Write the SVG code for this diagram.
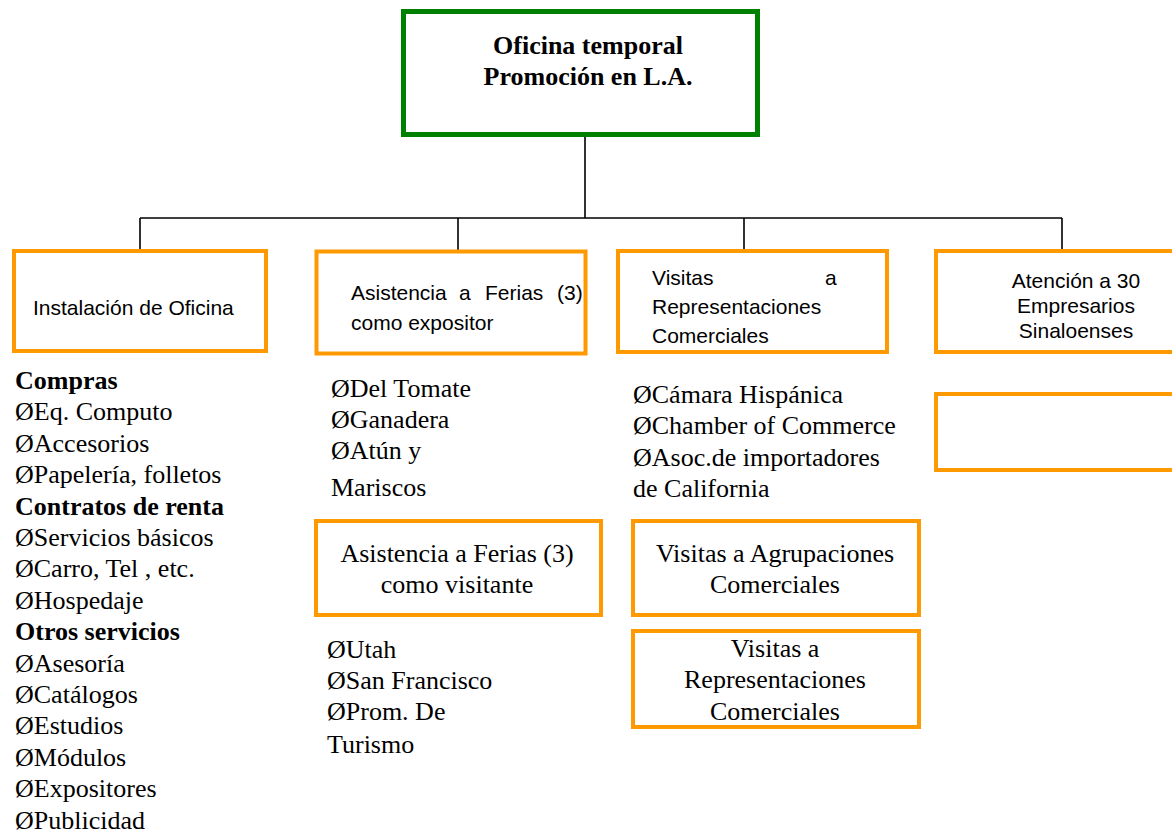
<svg xmlns="http://www.w3.org/2000/svg" width="1172" height="834" viewBox="0 0 1172 834">
<style>
.bg{fill:#ffffff}
.root{fill:#ffffff;stroke:#008000;stroke-width:5}
.box{fill:#ffffff;stroke:#FF9900;stroke-width:4}
.conn{fill:none;stroke:#000000;stroke-width:1.6}
.sans{font-family:"Liberation Sans",Arial,sans-serif;font-size:21px;fill:#000}
.serif{font-family:"Liberation Serif","Times New Roman",serif;font-size:26px;fill:#000}
.b{font-weight:bold}
.mid{text-anchor:middle}
</style>
<rect class="bg" x="0" y="0" width="1172" height="834"/>
<g id="connectors">
<path class="conn" d="M585,137 V218 M140,218 H1062 M140,218 V250 M458,218 V250 M744,218 V250 M1062,218 V250"/>
</g>
<g id="root">
<rect class="root" x="403.5" y="11.5" width="354" height="123"/>
<text class="serif b mid" x="588" y="54">Oficina temporal</text>
<text class="serif b mid" x="588" y="85">Promoción en L.A.</text>
</g>
<g id="instalacion">
<rect class="box" x="14" y="251" width="252" height="100"/>
<text class="sans" x="33" y="315">Instalación de Oficina</text>
</g>
<g id="ferias-expositor">
<rect class="box" x="316.5" y="251.5" width="269" height="102"/>
<text class="sans" y="300"><tspan x="351">Asistencia</tspan><tspan x="459">a</tspan><tspan x="485">Ferias</tspan><tspan x="557">(3)</tspan></text>
<text class="sans" x="351" y="330">como expositor</text>
</g>
<g id="visitas-representaciones">
<rect class="box" x="618" y="251" width="269" height="101"/>
<text class="sans" y="285"><tspan x="652">Visitas</tspan><tspan x="825">a</tspan></text>
<text class="sans" x="652" y="314">Representaciones</text>
<text class="sans" x="652" y="343">Comerciales</text>
</g>
<g id="atencion">
<rect class="box" x="936" y="251" width="250" height="101"/>
<text class="sans mid" x="1076" y="288">Atención a 30</text>
<text class="sans mid" x="1076" y="313">Empresarios</text>
<text class="sans mid" x="1076" y="338">Sinaloenses</text>
</g>
<g id="empty-box">
<rect class="box" x="936" y="394" width="250" height="76"/>
</g>
<g id="lista-instalacion">
<text class="serif b" x="15" y="389">Compras</text>
<text class="serif" x="15" y="420">ØEq. Computo</text>
<text class="serif" x="15" y="452">ØAccesorios</text>
<text class="serif" x="15" y="483">ØPapelería, folletos</text>
<text class="serif b" x="15" y="515">Contratos de renta</text>
<text class="serif" x="15" y="546">ØServicios básicos</text>
<text class="serif" x="15" y="577">ØCarro, Tel , etc.</text>
<text class="serif" x="15" y="609">ØHospedaje</text>
<text class="serif b" x="15" y="640">Otros servicios</text>
<text class="serif" x="15" y="672">ØAsesoría</text>
<text class="serif" x="15" y="703">ØCatálogos</text>
<text class="serif" x="15" y="734">ØEstudios</text>
<text class="serif" x="15" y="766">ØMódulos</text>
<text class="serif" x="15" y="797">ØExpositores</text>
<text class="serif" x="15" y="829">ØPublicidad</text>
</g>
<g id="lista-expositor">
<text class="serif" x="331" y="397">ØDel Tomate</text>
<text class="serif" x="331" y="428">ØGanadera</text>
<text class="serif" x="331" y="459">ØAtún y</text>
<text class="serif" x="331" y="496">Mariscos</text>
</g>
<g id="ferias-visitante">
<rect class="box" x="316" y="521" width="285" height="94"/>
<text class="serif mid" x="457" y="562">Asistencia a Ferias (3)</text>
<text class="serif mid" x="457" y="593">como visitante</text>
</g>
<g id="lista-visitante">
<text class="serif" x="327" y="658">ØUtah</text>
<text class="serif" x="327" y="689">ØSan Francisco</text>
<text class="serif" x="327" y="720">ØProm. De</text>
<text class="serif" x="327" y="753">Turismo</text>
</g>
<g id="lista-representaciones">
<text class="serif" x="633" y="403">ØCámara Hispánica</text>
<text class="serif" x="633" y="434">ØChamber of Commerce</text>
<text class="serif" x="633" y="466">ØAsoc.de importadores</text>
<text class="serif" x="633" y="497">de California</text>
</g>
<g id="agrupaciones">
<rect class="box" x="633" y="521" width="286" height="94"/>
<text class="serif mid" x="775" y="562">Visitas a Agrupaciones</text>
<text class="serif mid" x="775" y="593">Comerciales</text>
</g>
<g id="representaciones-2">
<rect class="box" x="633" y="631" width="286" height="96"/>
<text class="serif mid" x="775" y="657">Visitas a</text>
<text class="serif mid" x="775" y="688">Representaciones</text>
<text class="serif mid" x="775" y="720">Comerciales</text>
</g>
</svg>
